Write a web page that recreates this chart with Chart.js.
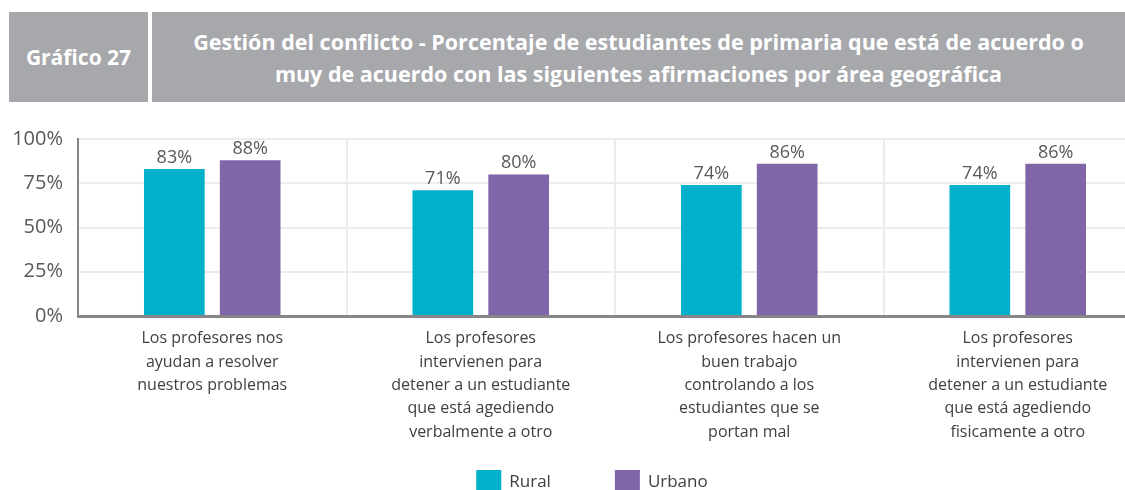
<!DOCTYPE html>
<html>
<head>
<meta charset="utf-8">
<script src="https://cdn.jsdelivr.net/npm/chart.js@4/dist/chart.umd.min.js"></script>
<style>
  html, body { margin: 0; padding: 0; width: 1125px; height: 490px; overflow: hidden; background: #fff; font-family: "Open Sans", sans-serif; }
  .box { position: absolute; top: 12px; height: 90px; background: #a7a8ab; color: #fff; font-weight: bold; display: flex; align-items: center; justify-content: center; text-align: center; }
  #num { left: 9px; width: 139px; font-size: 21px; }
  #title { left: 152px; width: 973px; font-size: 21.5px; line-height: 32px; padding-top: 2px; box-sizing: border-box; }
  #wrap { position: absolute; left: 0; top: 112px; }
</style>
</head>
<body>
<div class="box" id="num">Gráfico 27</div>
<div class="box" id="title">Gestión del conflicto - Porcentaje de estudiantes de primaria que está de acuerdo o<br>muy de acuerdo con las siguientes afirmaciones por área geográfica</div>
<div id="wrap"><canvas id="graphic" width="1160" height="390"></canvas></div>
<script>
const categorias = [
  ["Los profesores nos", "ayudan a resolver", "nuestros problemas"],
  ["Los profesores", "intervienen para", "detener a un estudiante", "que está agediendo", "verbalmente a otro"],
  ["Los profesores hacen un", "buen trabajo", "controlando a los", "estudiantes que se", "portan mal"],
  ["Los profesores", "intervienen para", "detener a un estudiante", "que está agediendo", "fisicamente a otro"]
]
const rural = [83, 71, 74, 74]
const urbano = [88, 80, 86, 86]
const ticksY = [0, 25, 50, 75, 100]

const ctx = document.querySelector('#graphic').getContext('2d')

// etiquetas de valor sobre cada barra
const valoresPlugin = {
  id: 'valores',
  afterDatasetsDraw(chart) {
    const c = chart.ctx
    c.save()
    c.font = '18px "Open Sans"'
    c.fillStyle = '#595959'
    c.textAlign = 'center'
    c.textBaseline = 'alphabetic'
    chart.data.datasets.forEach((ds, i) => {
      chart.getDatasetMeta(i).data.forEach((bar, j) => {
        c.fillText(ds.data[j] + '%', bar.x, bar.y - 6)
      })
    })
    c.restore()
  }
}

// leyenda dibujada a mano para controlar el espaciado
const leyendaPlugin = {
  id: 'leyenda',
  afterDraw(chart) {
    const c = chart.ctx
    c.save()
    c.font = '17px "Open Sans"'
    c.textBaseline = 'middle'
    const items = chart.data.datasets.map(ds => ({ label: ds.label, color: ds.backgroundColor, w: 25 + 8 + c.measureText(ds.label).width }))
    const gap = 64
    const total = items.reduce((s, it) => s + it.w, 0) + gap * (items.length - 1)
    let x = 592 - total / 2
    const y = 358
    items.forEach(it => {
      c.fillStyle = it.color
      c.fillRect(x, y, 25, 22)
      c.fillStyle = '#404040'
      c.fillText(it.label, x + 33, y + 12)
      x += it.w + gap
    })
    c.restore()
  }
}

new Chart(ctx, {
  type: 'bar',
  data: {
    labels: categorias,
    datasets: [
      { label: 'Rural', data: rural, backgroundColor: '#00b1c9', categoryPercentage: 0.565, barPercentage: 0.8 },
      { label: 'Urbano', data: urbano, backgroundColor: '#8165a9', categoryPercentage: 0.565, barPercentage: 0.8 }
    ]
  },
  options: {
    responsive: false,
    animation: false,
    devicePixelRatio: 1,
    layout: { padding: { top: 25, right: 8, bottom: 0, left: 0 } },
    plugins: { legend: { display: false }, tooltip: { enabled: false } },
    scales: {
      x: {
        afterFit: (s) => { s.height = 186 },
        grid: { color: '#ececec', lineWidth: 2, drawTicks: false, offset: true },
        border: { color: '#868686', width: 3 },
        ticks: { color: '#404040', padding: 11, font: { family: 'Open Sans', size: 16, lineHeight: 1.46 } }
      },
      y: {
        min: 0,
        max: 100,
        afterFit: (s) => { s.width = 78 },
        afterBuildTicks: (s) => { s.ticks = ticksY.map(v => ({ value: v })) },
        grid: { color: '#ececec', lineWidth: 2, drawTicks: false },
        border: { color: '#868686', width: 2 },
        ticks: { color: '#595959', padding: 15, font: { family: 'Open Sans', size: 20 }, callback: (v) => v + '%' }
      }
    }
  },
  plugins: [valoresPlugin, leyendaPlugin]
})
</script>
</body>
</html>
